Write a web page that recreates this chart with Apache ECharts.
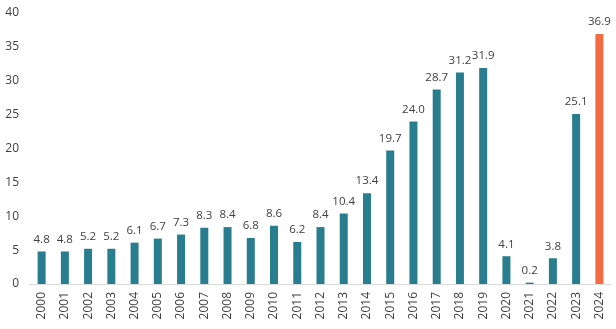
<!DOCTYPE html>
<html><head><meta charset="utf-8">
<script src="https://cdn.jsdelivr.net/npm/echarts@6/dist/echarts.min.js"></script>
<style>html,body{margin:0;padding:0;background:#fff}#c{width:616px;height:329px}</style>
</head><body><div id="c"></div>
<script>
const categories = ['2000','2001','2002','2003','2004','2005','2006','2007','2008','2009','2010','2011','2012','2013','2014','2015','2016','2017','2018','2019','2020','2021','2022','2023','2024'];
const values = [4.8,4.8,5.2,5.2,6.1,6.7,7.3,8.3,8.4,6.8,8.6,6.2,8.4,10.4,13.4,19.7,24.0,28.7,31.2,31.9,4.1,0.2,3.8,25.1,36.9];
const yTicks = [0,5,10,15,20,25,30,35,40];
const teal = '#287d8e', orange = '#f26b43';
const chart = echarts.init(document.getElementById('c'), null, {renderer:'canvas'});
chart.setOption({
  animation:false,
  textStyle:{fontFamily:'Open Sans'},
  grid:{left:30,right:5,top:13,bottom:45,containLabel:false},
  xAxis:{type:'category',data:categories,
    axisLine:{lineStyle:{color:'#d9d9d9',width:1}},axisTick:{show:false},
    axisLabel:{rotate:90,color:'#404040',fontSize:12,margin:8,fontFamily:'Open Sans'}},
  yAxis:{type:'value',min:0,max:40,interval:5,splitLine:{show:false},
    axisLabel:{color:'#404040',fontSize:12,margin:11,fontFamily:'Open Sans',
      formatter:v=>yTicks.includes(v)?String(v):''}},
  series:[{type:'bar',barWidth:8,
    data:values.map((v,i)=>({value:v,itemStyle:{color:i===values.length-1?orange:teal}})),
    label:{show:true,position:'top',distance:6,color:'#404040',fontSize:11.5,fontFamily:'Open Sans',
      formatter:p=>p.value.toFixed(1)}}]
});
</script></body></html>
